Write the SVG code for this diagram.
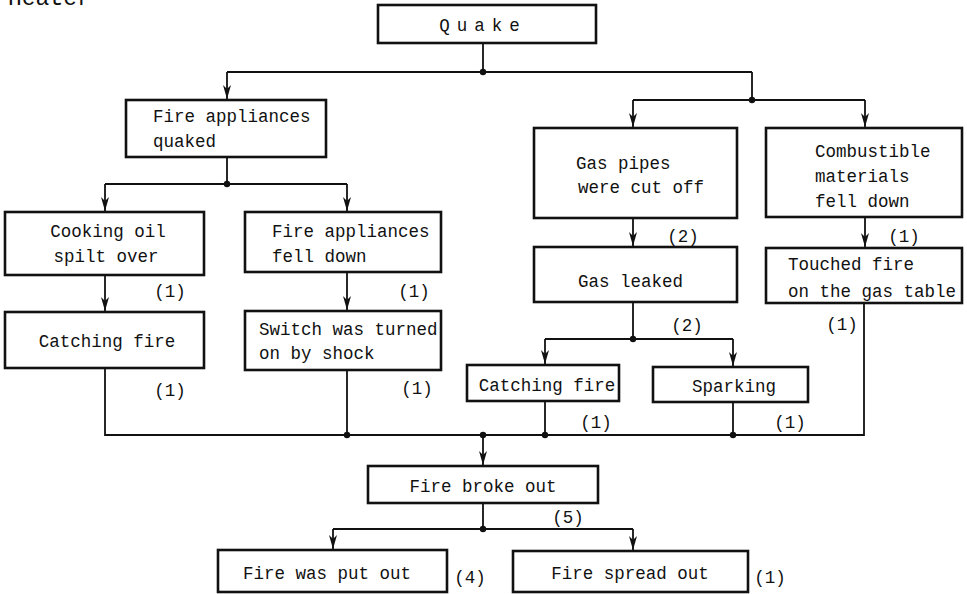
<svg xmlns="http://www.w3.org/2000/svg" width="967" height="594" viewBox="0 0 967 594">
<defs>
<marker id="arr" viewBox="0 0 14 10" refX="14" refY="5" markerWidth="14" markerHeight="10" markerUnits="userSpaceOnUse" orient="auto">
<path d="M0,1 L14,5 L0,9 L4,5 Z" fill="#111"/>
</marker>
<style>
.box{fill:#fff;stroke:#111;stroke-width:2.6}
.t{font-family:"Liberation Mono","DejaVu Sans Mono",monospace;font-size:17.5px;fill:#111}
.m{text-anchor:middle}
.c{fill:none;stroke:#111;stroke-width:1.8}
.a{fill:none;stroke:#111;stroke-width:1.8;marker-end:url(#arr)}
.d{fill:#111}
</style>
</defs>
<rect width="967" height="594" fill="#fff"/>
<text x="8" y="5" style="font-family:'Liberation Mono',monospace;font-size:23px;fill:#111">Heater</text>

<g id="connectors">
<path class="c" d="M483,43 V72 M227,72 H752 M752,72 V100 M633,100 H865"/>
<path class="a" d="M227,72 V99"/>
<path class="a" d="M633,100 V127"/>
<path class="a" d="M865,100 V127"/>
<path class="c" d="M227,157 V184 M105,184 H347"/>
<path class="a" d="M105,184 V211"/>
<path class="a" d="M347,184 V211"/>
<path class="a" d="M105,275 V311"/>
<path class="a" d="M347,272 V310"/>
<path class="c" d="M105,368 V435 H864 V303 M347,370 V435"/>
<path class="a" d="M633,218 V246"/>
<path class="c" d="M633,302 V339 M545,339 H733"/>
<path class="a" d="M545,339 V364"/>
<path class="a" d="M733,339 V366"/>
<path class="c" d="M545,401 V435 M733,402 V435"/>
<path class="a" d="M865,217 V247"/>
<path class="a" d="M483,435 V465"/>
<path class="c" d="M483,503 V529 M333,529 H633"/>
<path class="a" d="M333,529 V549"/>
<path class="a" d="M633,529 V550"/>
<circle class="d" cx="483" cy="72" r="3.2"/>
<circle class="d" cx="752" cy="100" r="3.2"/>
<circle class="d" cx="227" cy="184" r="3.2"/>
<circle class="d" cx="633" cy="339" r="3.2"/>
<circle class="d" cx="347" cy="435" r="3.2"/>
<circle class="d" cx="483" cy="435" r="3.2"/>
<circle class="d" cx="545" cy="435" r="3.2"/>
<circle class="d" cx="733" cy="435" r="3.2"/>
<circle class="d" cx="483" cy="529" r="3.2"/>
</g>

<g id="quake"><rect class="box" x="378" y="5" width="218" height="38"/><text class="t m" x="483" y="31" letter-spacing="7">Quake</text></g>
<g id="fa-quaked"><rect class="box" x="126" y="100" width="200" height="57"/><text class="t" x="153" y="122">Fire appliances</text><text class="t" x="153" y="147">quaked</text></g>
<g id="cooking-oil"><rect class="box" x="5" y="212" width="199" height="63"/><text class="t m" x="108" y="237">Cooking oil</text><text class="t m" x="106" y="262">spilt over</text></g>
<g id="fa-fell"><rect class="box" x="245" y="212" width="196" height="60"/><text class="t" x="272" y="237">Fire appliances</text><text class="t" x="272" y="262">fell down</text></g>
<g id="catching-fire-1"><rect class="box" x="5" y="312" width="199" height="56"/><text class="t m" x="107" y="347">Catching fire</text></g>
<g id="switch"><rect class="box" x="245" y="311" width="196" height="59"/><text class="t" x="259" y="335">Switch was turned</text><text class="t" x="259" y="359">on by shock</text></g>
<g id="gas-pipes"><rect class="box" x="534" y="128" width="203" height="90"/><text class="t" x="576" y="169">Gas pipes</text><text class="t" x="578" y="193">were cut off</text></g>
<g id="combustible"><rect class="box" x="766" y="128" width="196" height="89"/><text class="t" x="815" y="157">Combustible</text><text class="t" x="815" y="182">materials</text><text class="t" x="815" y="207">fell down</text></g>
<g id="gas-leaked"><rect class="box" x="534" y="247" width="203" height="55"/><text class="t" x="578" y="287">Gas leaked</text></g>
<g id="touched-fire"><rect class="box" x="766" y="248" width="196" height="55"/><text class="t" x="788" y="270">Touched fire</text><text class="t" x="788" y="297">on the gas table</text></g>
<g id="catching-fire-2"><rect class="box" x="467" y="365" width="152" height="36"/><text class="t m" x="547" y="391">Catching fire</text></g>
<g id="sparking"><rect class="box" x="653" y="367" width="155" height="35"/><text class="t m" x="734" y="392">Sparking</text></g>
<g id="fire-broke-out"><rect class="box" x="368" y="466" width="230" height="37"/><text class="t m" x="483" y="492">Fire broke out</text></g>
<g id="fire-put-out"><rect class="box" x="218" y="550" width="229" height="42"/><text class="t m" x="327" y="579">Fire was put out</text></g>
<g id="fire-spread"><rect class="box" x="513" y="551" width="235" height="41"/><text class="t m" x="630" y="579">Fire spread out</text></g>

<g id="labels">
<text class="t m" x="170" y="297">(1)</text>
<text class="t m" x="414" y="297">(1)</text>
<text class="t m" x="170" y="396">(1)</text>
<text class="t m" x="417" y="394">(1)</text>
<text class="t m" x="596" y="428">(1)</text>
<text class="t m" x="790" y="428">(1)</text>
<text class="t m" x="842" y="330">(1)</text>
<text class="t m" x="687" y="331">(2)</text>
<text class="t m" x="683" y="242">(2)</text>
<text class="t m" x="904" y="242">(1)</text>
<text class="t m" x="568" y="523">(5)</text>
<text class="t m" x="470" y="583">(4)</text>
<text class="t m" x="770" y="583">(1)</text>
</g>
</svg>
